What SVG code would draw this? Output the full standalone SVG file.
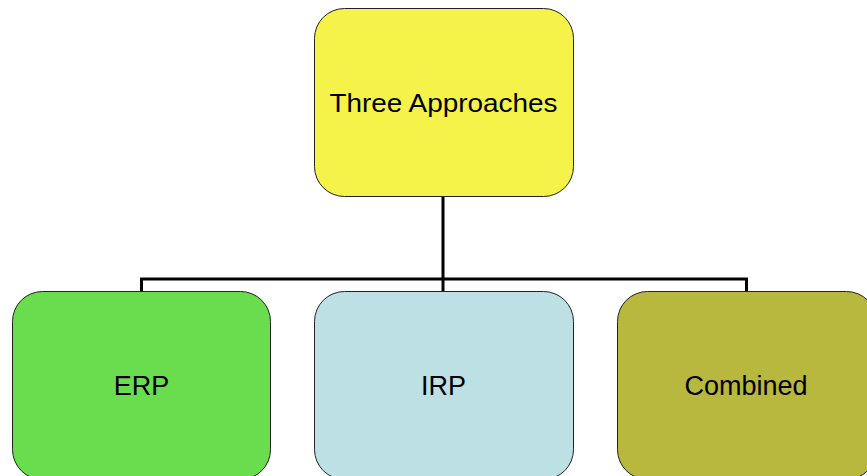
<svg xmlns="http://www.w3.org/2000/svg" width="867" height="476" viewBox="0 0 867 476">
<style>
.box{stroke:#222;stroke-width:1}
.lbl{font-family:"Liberation Sans",Arial,sans-serif;font-size:27px;fill:#000;text-anchor:middle}
.conn{fill:none;stroke:#000;stroke-width:3}
</style>
<rect width="867" height="476" fill="#fff"/>
<g id="connectors">
<path class="conn" d="M443 197 V279 M141.5 291 V279 H746.5 V291 M443 279 V291"/>
</g>
<g id="root">
<rect class="box" x="314.5" y="8.5" width="259" height="188" rx="30" fill="#F5F24A"/>
<text class="lbl" x="443.5" y="112.3" style="font-size:26px" textLength="228" lengthAdjust="spacingAndGlyphs">Three Approaches</text>
</g>
<g id="erp">
<rect class="box" x="12.5" y="291.5" width="258" height="188" rx="30" fill="#6ADD4F"/>
<text class="lbl" x="141.5" y="394.5">ERP</text>
</g>
<g id="irp">
<rect class="box" x="314.5" y="291.5" width="259" height="188" rx="30" fill="#BCE0E3"/>
<text class="lbl" x="443.5" y="394.5">IRP</text>
</g>
<g id="combined">
<rect class="box" x="617.5" y="291.5" width="259" height="188" rx="30" fill="#B8B83E"/>
<text class="lbl" x="746" y="394.5">Combined</text>
</g>
</svg>
